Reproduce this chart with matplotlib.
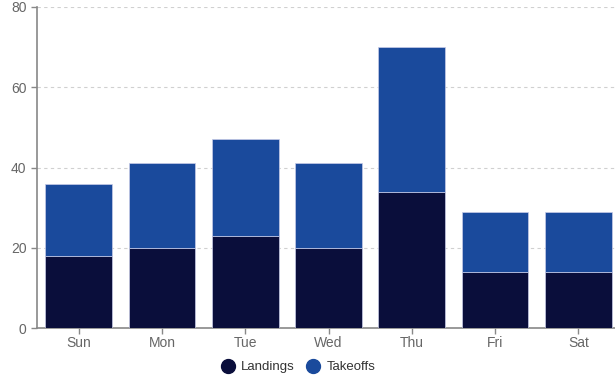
import matplotlib
matplotlib.use("Agg")
import matplotlib.pyplot as plt
from matplotlib.lines import Line2D

days = ["Sun", "Mon", "Tue", "Wed", "Thu", "Fri", "Sat"]
landings = [18, 20, 23, 20, 34, 14, 14]
takeoffs = [18, 21, 24, 21, 36, 15, 15]
yticks = [0, 20, 40, 60, 80]

c_land = "#0a0e3b"
c_take = "#1a4a9c"

plt.rcParams['font.family'] = ['Liberation Sans', 'DejaVu Sans']
fig = plt.figure(figsize=(6.15, 3.83), dpi=100)
ax = fig.add_axes([37/615, 1-328/383, (620-37)/615, (328-7)/383])

x = list(range(len(days)))
ax.bar(x, landings, width=0.8, color=c_land, edgecolor="#c8cce8", linewidth=0.5, zorder=3)
ax.bar(x, takeoffs, bottom=landings, width=0.8, color=c_take, edgecolor="#c8cce8", linewidth=0.5, zorder=3)

ax.set_xlim(-0.5, len(days) - 0.5)
ax.set_ylim(0, 80)
ax.set_yticks(yticks)
ax.set_xticks(x)
ax.set_xticklabels(days)
ax.yaxis.grid(True, linestyle=(0, (3, 3)), color="#d0d0d0", linewidth=0.8, zorder=0)
ax.tick_params(axis="both", colors="#888888", labelcolor="#666666", labelsize=10, length=4, width=1)
ax.tick_params(axis="x", pad=2)
for s in ["top", "right"]:
    ax.spines[s].set_visible(False)
for s in ["left", "bottom"]:
    ax.spines[s].set_color("#888888")
    ax.spines[s].set_linewidth(1.2)

handles = [Line2D([], [], marker="o", linestyle="", markersize=10, color=c_land, label="Landings"),
           Line2D([], [], marker="o", linestyle="", markersize=10, color=c_take, label="Takeoffs")]
fig.legend(handles=handles, loc="center", bbox_to_anchor=(295/615, 1-367/383), ncol=2, frameon=False,
           fontsize=9.5, handletextpad=0.0, columnspacing=0.4, labelcolor="#333333")

fig.savefig("out.png", dpi=100)
